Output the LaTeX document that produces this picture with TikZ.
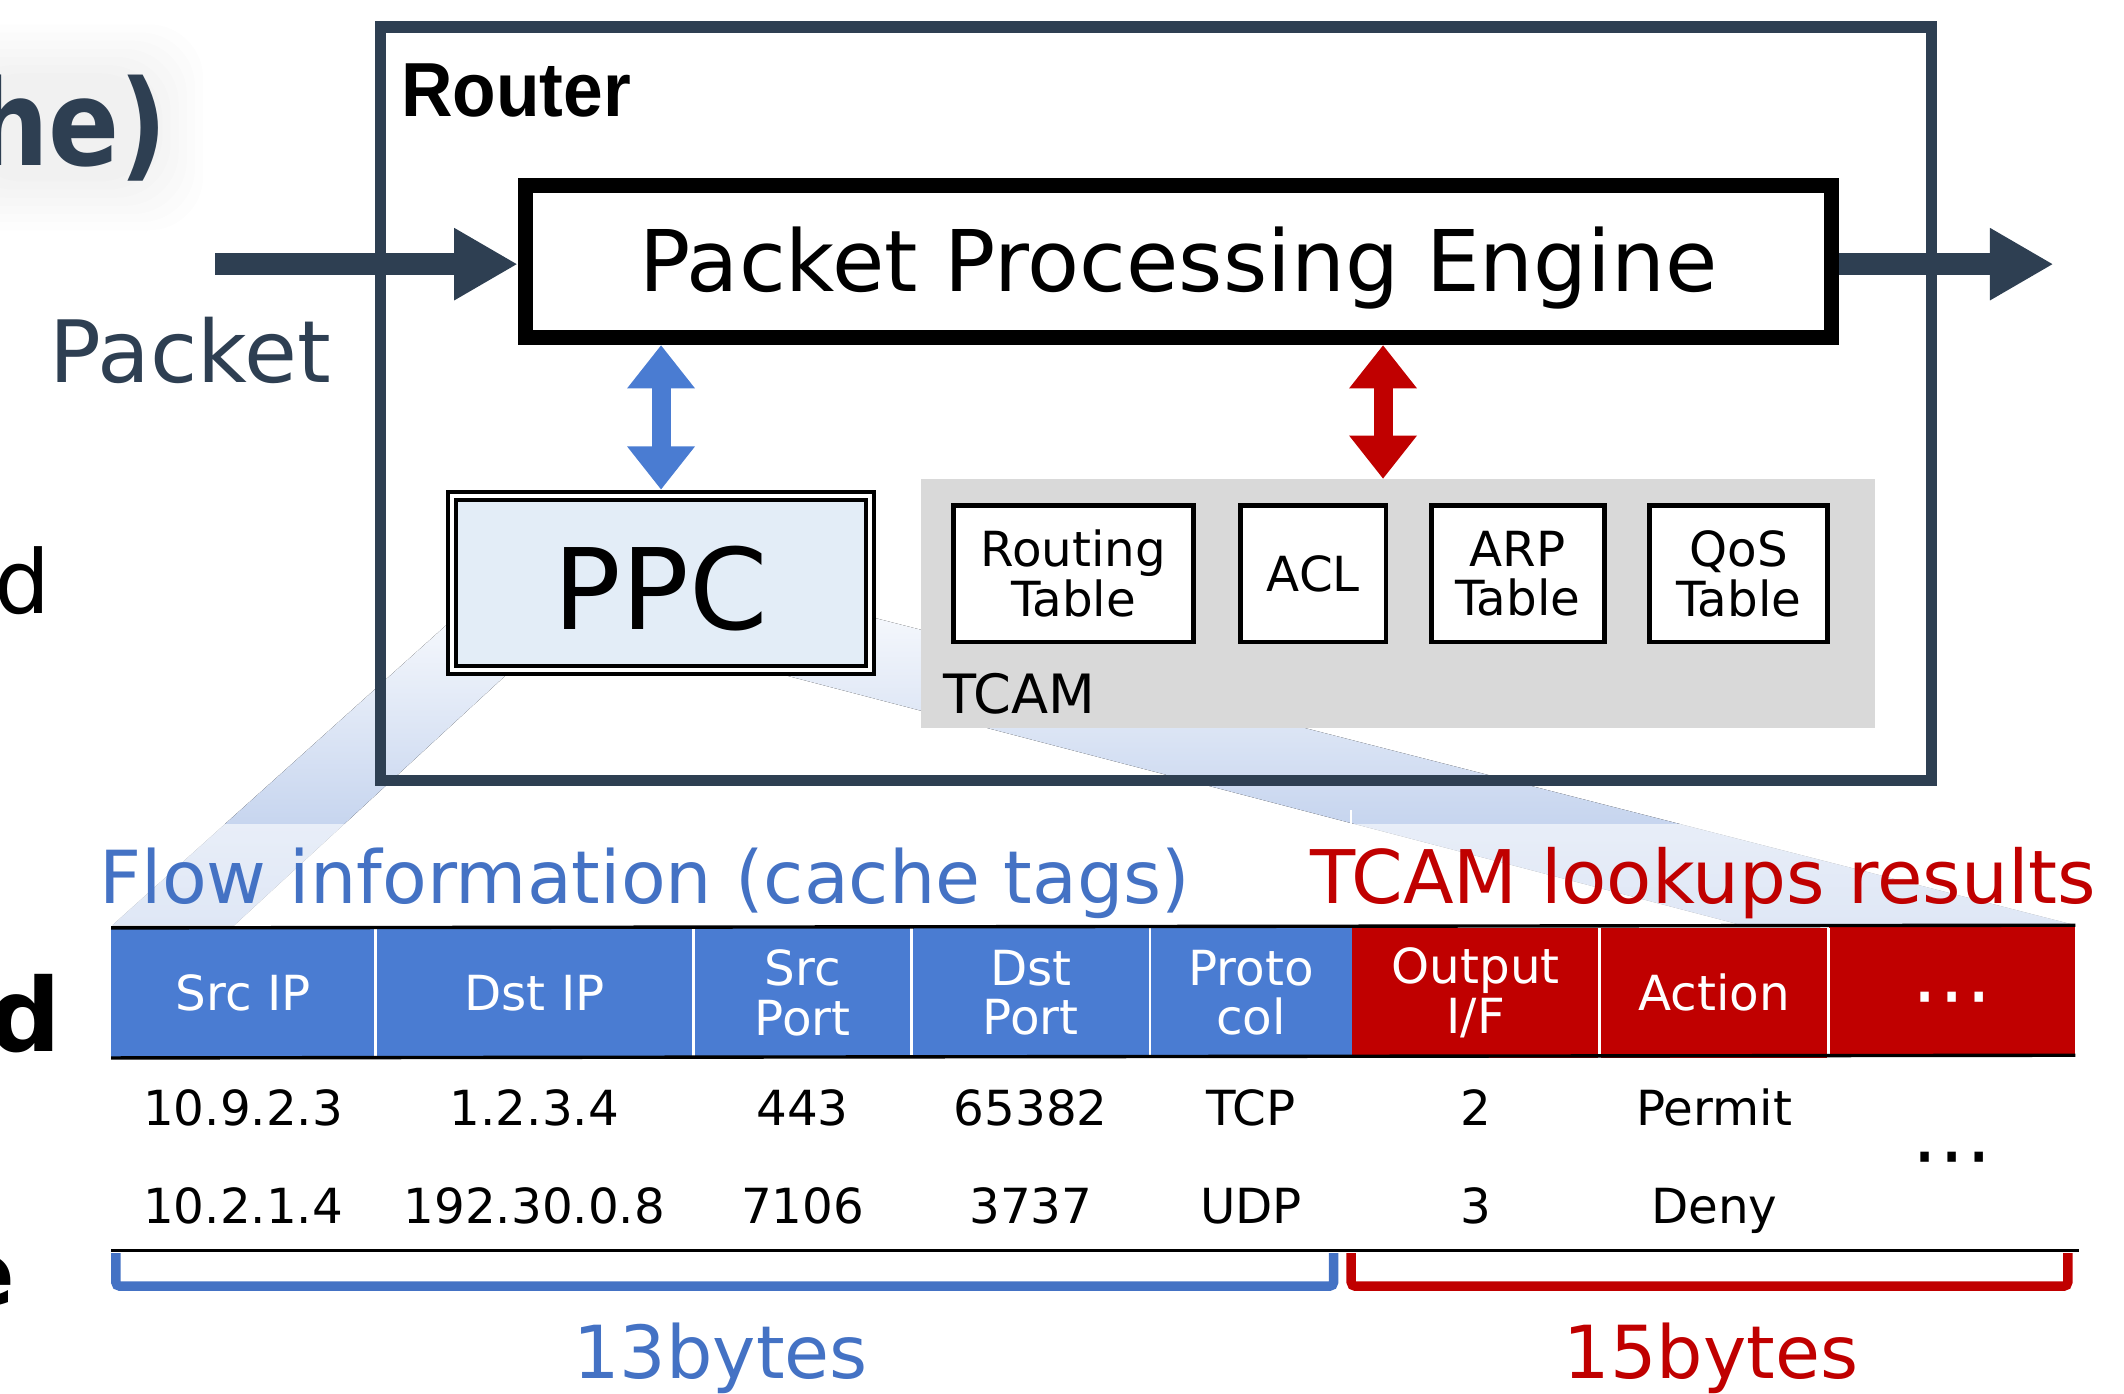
\documentclass[tikz,border=0pt]{standalone}
\usepackage{fontspec}
\setmainfont{DejaVu Sans}
\newfontfamily\routerfont{Liberation Sans}
\usetikzlibrary{arrows.meta}
\definecolor{slate}{HTML}{2E3F52}
\definecolor{hdrblue}{HTML}{4A7CD2}
\definecolor{hdrred}{HTML}{C00000}
\definecolor{txtblue}{HTML}{4472C4}
\definecolor{ppcfill}{HTML}{E3EDF7}
\definecolor{tcamgray}{HTML}{D9D9D9}
\definecolor{bandtop}{HTML}{F4F7FC}
\definecolor{bandbot}{HTML}{B0C4E8}
\newcommand{\fs}[1]{\fontsize{#1}{#1}\selectfont}
\newcommand{\tfont}{\fontsize{35.7}{36.5}\selectfont}
\newcommand{\ioif}{I/F}
\newcommand{\dotsym}{{\fs{60}⋯}}
\tikzset{
  tcell/.style={draw=black, line width=3.5pt, fill=white, minimum height=101pt,
    inner sep=0pt, outer sep=0pt, align=center, font=\tfont},
  hdrcell/.style={inner sep=0pt, outer sep=0pt, minimum height=96pt,
    text=white, align=center, font=\tfont},
  rowtxt/.style={anchor=base, font=\tfont},
  bigarrow/.style={slate, line width=16pt, -{Triangle[length=47pt,width=50pt]}},
  dblarrow/.style={line width=14pt,
    {Triangle[length=32pt,width=48pt]}-{Triangle[length=32pt,width=48pt]}},
  bracket/.style={line width=7pt, rounded corners=3pt},
  band/.style={top color=bandtop, bottom color=bandbot}
}
\begin{document}
\begin{tikzpicture}[x=1pt,y=-1pt]
\useasboundingbox (0,0) rectangle (1568,1029);
\clip (0,0) rectangle (1568,1029);
%Title fragment with soft glow
\foreach \k in {0,...,6}
  \fill[black, opacity=0.007, rounded corners=40pt] ({-60+\k*6},{18+\k*6}) rectangle ({150-\k*6},{170-\k*6});
\node[anchor=base east, xscale=0.88, text=slate, font=\bfseries\fs{88}] (ttl) at (127,122) {he)};
\node[anchor=base east, font=\fs{65}] (frag1) at (41,453) {d};
\node[anchor=base east, font=\bfseries\fs{75}] (frag2) at (49,776) {d};
\node[anchor=base east, font=\bfseries\fs{66}] (frag3) at (15,964) {e};
%Zoom bands
\fill[band] (330,461) -- (375,497) -- (173,683) -- (83,683) -- cycle;
\fill[band] (645,456) -- (1532,683) -- (1286,683) -- (574,497) -- cycle;
\fill[white, opacity=0.6] (0,608) rectangle (1568,683);
\draw[white, line width=1.5pt] (997,598) -- (997,608);
%Router
\node[draw=slate, line width=8.5pt, minimum width=1145pt, minimum height=556pt, inner sep=0pt] (router) at (853.5,298) {};
\node[anchor=base west, xscale=0.93, font=\routerfont\bfseries\fs{56.6}] (routerlbl) at (293,86) {Router};
%Packet Processing Engine
\node[draw=black, line width=11.5pt, minimum width=964pt, minimum height=112pt, inner sep=0pt,
  text height=44pt, text depth=0pt, font=\fs{62.8}] (ppe) at (870,193) {Packet Processing Engine};
%Packet in / out
\node[anchor=base west, text=slate, font=\fs{63.5}] (pktlbl) at (33,282) {Packet};
\coordinate (pktin) at (159,195);
\coordinate (pktout) at (1516,195);
\draw[bigarrow] (pktin) -- (pktin -| ppe.west);
\draw[bigarrow] (pktout -| ppe.east) -- (pktout);
%PPC
\node[draw=black, line width=2.9pt, double=white, double distance=3pt, fill=ppcfill,
  minimum width=308.8pt, minimum height=128.7pt, inner sep=0pt, outer sep=4.4pt,
  text height=69.5pt, text depth=0pt, font=\fs{83}] (ppc) at (488,430.25) {PPC};
%TCAM
\node[fill=tcamgray, minimum width=704pt, minimum height=184pt, inner sep=0pt, outer sep=0pt] (tcam) at (1032,445.5) {};
\node[anchor=base west, font=\fs{40}] (tcamlbl) at (693,526.5) {TCAM};
\node[tcell, minimum width=177.5pt] (rtbl) at (792.5,423.5) {Routing\\Table};
\node[tcell, minimum width=107.5pt] (acl) at (969.5,423.5) {ACL};
\node[tcell, minimum width=127.5pt] (arp) at (1120.5,423.5) {ARP\\Table};
\node[tcell, minimum width=131.5pt] (qos) at (1283.5,423.5) {QoS\\Table};
%Double arrows
\coordinate (redx) at (1021,0);
\draw[dblarrow, hdrblue] (ppe.south -| ppc.north) -- (ppc.north);
\draw[dblarrow, hdrred] (ppe.south -| redx) -- (tcam.north -| redx);
%Captions
\node[anchor=base west, text=txtblue, font=\fs{54}] (flowlbl) at (70,667) {Flow information (cache tags)};
\node[anchor=base west, text=hdrred, font=\fs{54.6}] (reslbl) at (964,667) {TCAM lookups results};
%Table header
\foreach \nm/\xa/\xb/\fc/\txt in {srcip/82/277/hdrblue/{Src IP}, dstip/277/512/hdrblue/{Dst IP},
    srcport/512/673/hdrblue/{Src\\Port}, dstport/673/849/hdrblue/{Dst\\Port},
    proto/849/998/hdrblue/{Proto\\col}, outif/998/1181/hdrred/{Output\\\ioif},
    action/1181/1350/hdrred/{Action}}
  \node[hdrcell, fill=\fc, minimum width={(\xb-\xa)*1pt}] (\nm) at ({(\xa+\xb)/2},733) {\txt};
\node[hdrcell, fill=hdrred, minimum width=182pt] (more) at (1441,731) {};
\node[text=white] (morehdr) at ([yshift=-13pt]more.center) {\dotsym};
\foreach \nm in {srcip,dstip,srcport,dstport,outif,action}
  \draw[white, line width=2pt] (\nm.north east) -- (\nm.south east);
\draw[line width=2.5pt] (srcip.north west) -- (more.north east);
\draw[line width=2.5pt] (srcip.south west) -- (more.south east);
%Table rows
\foreach \nm/\va/\vb in {srcip/10.9.2.3/10.2.1.4, dstip/1.2.3.4/192.30.0.8, srcport/443/7106,
    dstport/65382/3737, proto/TCP/UDP, outif/2/3, action/Permit/Deny} {
  \node[rowtxt] (\nm-a) at (\nm.center |- 0,831) {\va};
  \node[rowtxt] (\nm-b) at (\nm.center |- 0,903) {\vb};
}
\node (moredots) at (more.center |- 0,862) {\dotsym};
\coordinate (rulel) at (82,923);
\coordinate (ruler) at (1535,923);
\draw[line width=2pt] (rulel) -- (ruler);
%Brackets
\draw[bracket, txtblue] (85.5,925) -- (85.5,949.5) -- (984.5,949.5) -- (984.5,925);
\draw[bracket, hdrred] (997.5,925) -- (997.5,949.5) -- (1526.5,949.5) -- (1526.5,925);
\node[anchor=base, text=txtblue, font=\fs{54}] (flowsz) at (532,1018) {13bytes};
\node[anchor=base, text=hdrred, font=\fs{54}] (ressz) at (1263,1018) {15bytes};
\end{tikzpicture}
\end{document}
